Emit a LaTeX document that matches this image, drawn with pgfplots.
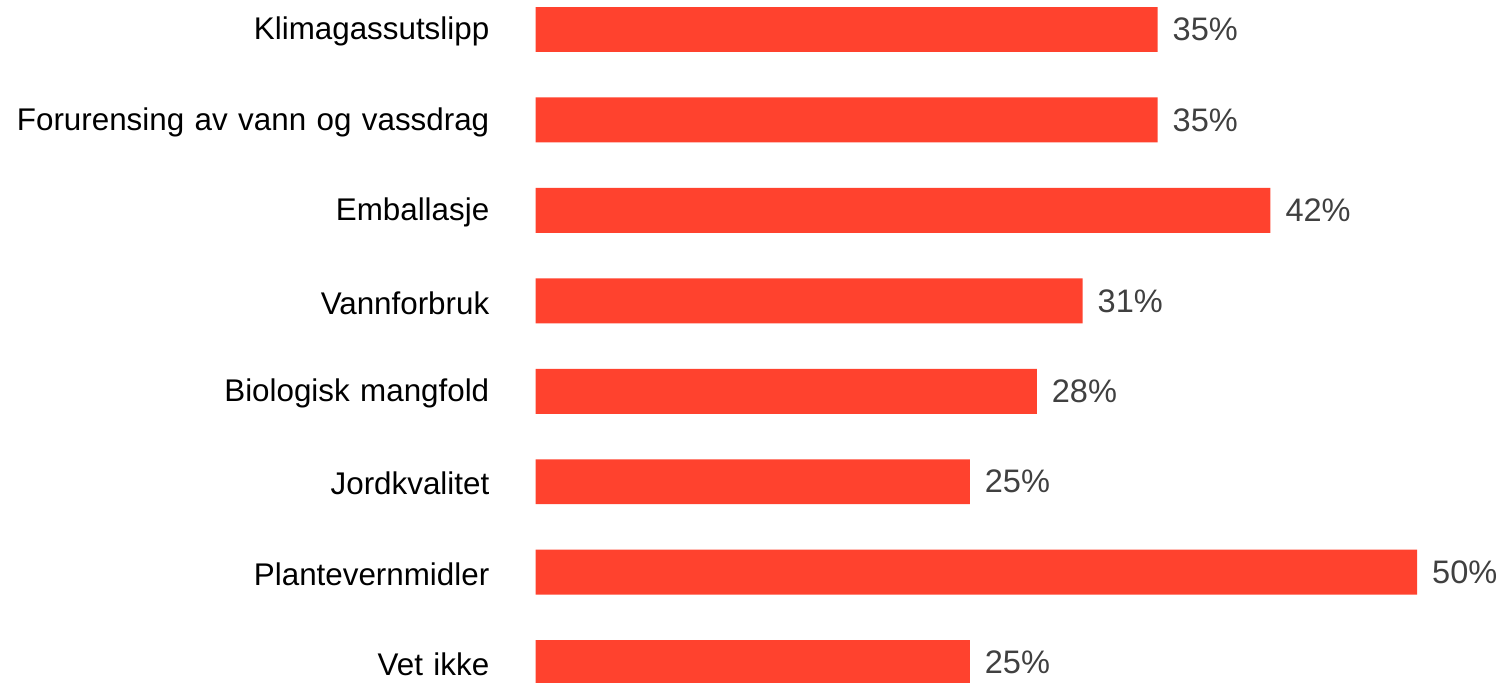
\documentclass[border=0pt]{standalone}
\usepackage{pgfplots}
\pgfplotsset{compat=1.18}
\usepackage{fontspec}
\setmainfont{Liberation Sans}
\definecolor{barred}{RGB}{255,66,46}
\definecolor{lblgray}{RGB}{64,64,64}

\begin{document}
\begin{tikzpicture}
\begin{axis}[
  xbar,
  width=483.5pt, height=341.8pt,
  scale only axis,
  xmin=0, xmax=54.76,
  ymin=-0.326, ymax=7.22,
  y dir=reverse,
  bar width=22.5pt,
  axis line style={draw=none},
  xtick=\empty,
  ytick={0,...,7},
  yticklabels={Klimagassutslipp,Forurensing av vann og vassdrag,Emballasje,Vannforbruk,Biologisk mangfold,Jordkvalitet,Plantevernmidler,Vet ikke},
  yticklabel style={font=\fontsize{15.7}{18}\selectfont, inner sep=0pt, xshift=-23pt, yshift=-1pt, text width=245pt, align=right, anchor=east},
  major tick length=0pt,
  nodes near coords,
  point meta=explicit symbolic,
  every node near coord/.append style={font=\fontsize{16.3}{19}\selectfont, text=lblgray, anchor=west, xshift=4pt},
]
  \addplot[fill=barred, draw=none] table[meta=lbl] {
    x     y  lbl
    35.28 0  35\%
    35.28 1  35\%
    41.68 2  42\%
    31.03 3  31\%
    28.43 4  28\%
    24.63 5  25\%
    50.00 6  50\%
    24.63 7  25\%
  };
\end{axis}
\end{tikzpicture}
\end{document}
